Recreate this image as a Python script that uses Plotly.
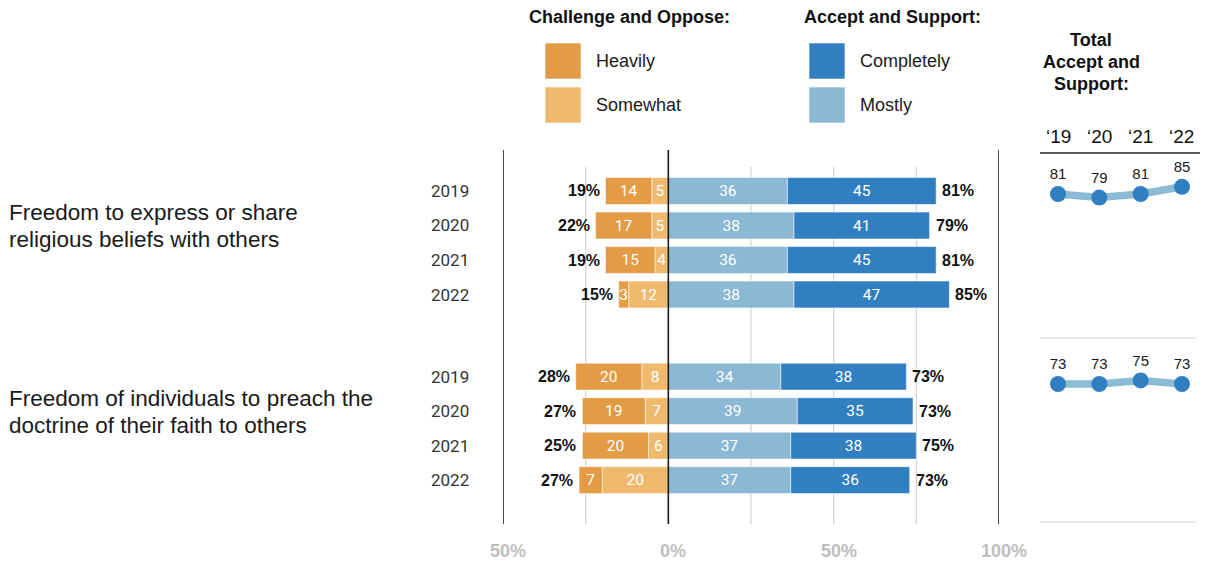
import plotly.graph_objects as go

W, H = 1208, 561

# ---- data -------------------------------------------------------------
years = ["2019", "2020", "2021", "2022"]
spark_ticks = ["\u201819", "\u201820", "\u201821", "\u201822"]
statements = [
    ["Freedom to express or share", "religious beliefs with others"],
    ["Freedom of individuals to preach the", "doctrine of their faith to others"],
]
x_tick_values = [-50, 0, 50, 100]
x_tick_labels = ["50%", "0%", "50%", "100%"]

# Challenge and Oppose (%)
heavily_1 = [14, 17, 15, 3]
somewhat_1 = [5, 5, 4, 12]
heavily_2 = [20, 19, 20, 7]
somewhat_2 = [8, 7, 6, 20]

# Accept and Support (%)
mostly_1 = [36, 38, 36, 38]
completely_1 = [45, 41, 45, 47]
mostly_2 = [34, 39, 37, 37]
completely_2 = [38, 35, 38, 36]

# Published net totals (%)
oppose_total_1 = [19, 22, 19, 15]
oppose_total_2 = [28, 27, 25, 27]
support_total_1 = [81, 79, 81, 85]
support_total_2 = [73, 73, 75, 73]

# ---- styling ----------------------------------------------------------
C_HEAVILY = "#e39b45"
C_SOMEWHAT = "#efba6e"
C_MOSTLY = "#8bb8d2"
C_COMPLETELY = "#317fc1"
C_LINE = "#8cbbd6"
FONT = "Liberation Sans"
NUM_FONT = "Roboto"


def px(x):
    return x / W


def py(y):
    return 1 - y / H


# vertical slots for the rows (one unit = one row pitch)
ROW_PITCH = 34.5
group_gap = 5.38
row_y = [0, 1, 2, 3] + [group_gap + i for i in range(4)]
y_top_px, y_bot_px, first_row_px = 150, 524, 191
y_range = [(y_bot_px - first_row_px) / ROW_PITCH, (y_top_px - first_row_px) / ROW_PITCH]

heavily = heavily_1 + heavily_2
somewhat = somewhat_1 + somewhat_2
mostly = mostly_1 + mostly_2
completely = completely_1 + completely_2
oppose_total = oppose_total_1 + oppose_total_2
support_total = support_total_1 + support_total_2
year_labels = years + years

fig = go.Figure()


def seg(vals, color, sign):
    return go.Bar(
        y=row_y,
        x=[sign * v for v in vals],
        orientation="h",
        width=0.78,
        marker=dict(color=color, line=dict(color="rgba(255,255,255,0.55)", width=1)),
        text=[str(v) for v in vals],
        textposition="inside",
        insidetextanchor="middle",
        textangle=0,
        constraintext="none",
        textfont=dict(family=NUM_FONT, size=15.5, color="white"),
        hoverinfo="skip",
        showlegend=False,
    )


# negatives stack outward from zero in trace order
fig.add_trace(seg(somewhat, C_SOMEWHAT, -1))
fig.add_trace(seg(heavily, C_HEAVILY, -1))
fig.add_trace(seg(mostly, C_MOSTLY, 1))
fig.add_trace(seg(completely, C_COMPLETELY, 1))

# sparklines of total Accept and Support
for vals, yax in [(support_total_1, "y3"), (support_total_2, "y4")]:
    fig.add_trace(go.Scatter(
        x=list(range(len(vals))), y=vals, xaxis="x2", yaxis=yax,
        mode="lines+markers+text",
        line=dict(color=C_LINE, width=7.5),
        marker=dict(size=16, color=C_COMPLETELY),
        text=[str(v) for v in vals],
        textposition="top center",
        textfont=dict(family=FONT, size=15, color="#1a1a1a"),
        hoverinfo="skip", showlegend=False, cliponaxis=False,
    ))

shapes = []
annotations = []

# black reference lines and light gridlines
for xv in [-50, 0, 100]:
    shapes.append(dict(type="line", xref="x", yref="paper", x0=xv, x1=xv,
                       y0=py(524), y1=py(150), line=dict(color="#1a1a1a", width=1.6),
                       layer="above"))
for xv in [-25, 25, 50, 75]:
    shapes.append(dict(type="line", xref="x", yref="paper", x0=xv, x1=xv,
                       y0=py(524), y1=py(167), line=dict(color="#d2d2d2", width=1.2),
                       layer="below"))

# x tick labels
for xv, lab in zip(x_tick_values, x_tick_labels):
    annotations.append(dict(x=xv, xref="x", y=py(551), yref="paper", text=lab,
                            showarrow=False, xanchor="center", yanchor="middle", xshift=5,
                            font=dict(family=FONT, size=18, color="#bdbdbd", weight="bold")))

# totals at bar ends and year labels
for i, y in enumerate(row_y):
    left_end = -(heavily[i] + somewhat[i])
    right_end = mostly[i] + completely[i]
    annotations.append(dict(x=left_end, xref="x", y=y, yref="y", text=f"{oppose_total[i]}%",
                            showarrow=False, xanchor="right", yanchor="middle", xshift=-4,
                            font=dict(family=FONT, size=16, color="#111", weight="bold")))
    annotations.append(dict(x=right_end, xref="x", y=y, yref="y", text=f"{support_total[i]}%",
                            showarrow=False, xanchor="left", yanchor="middle", xshift=4,
                            font=dict(family=FONT, size=16, color="#111", weight="bold")))
    annotations.append(dict(x=px(471), xref="paper", y=y, yref="y", text=year_labels[i],
                            showarrow=False, xanchor="right", yanchor="middle",
                            font=dict(family=NUM_FONT, size=17, color="#333")))

# statement labels
for lines, ys in zip(statements, [(213, 240), (398, 425)]):
    for text, yy in zip(lines, ys):
        annotations.append(dict(x=px(7), xref="paper", y=py(yy), yref="paper", text=text,
                                showarrow=False, xanchor="left", yanchor="middle",
                                font=dict(family=FONT, size=22.5, color="#1a1a1a")))

# legend
annotations.append(dict(x=px(527), xref="paper", y=py(17), yref="paper",
                        text="Challenge and Oppose:", showarrow=False, xanchor="left",
                        yanchor="middle", font=dict(family=FONT, size=18, color="#111", weight="bold")))
annotations.append(dict(x=px(802), xref="paper", y=py(17), yref="paper",
                        text="Accept and Support:", showarrow=False, xanchor="left",
                        yanchor="middle", font=dict(family=FONT, size=18, color="#111", weight="bold")))
legend_items = [
    ("Heavily", C_HEAVILY, 545, 61),
    ("Somewhat", C_SOMEWHAT, 545, 105),
    ("Completely", C_COMPLETELY, 809, 61),
    ("Mostly", C_MOSTLY, 809, 105),
]
for label, color, x0, yc in legend_items:
    shapes.append(dict(type="rect", xref="paper", yref="paper",
                       x0=px(x0), x1=px(x0 + 36), y0=py(yc + 18), y1=py(yc - 18),
                       fillcolor=color, line=dict(color="rgba(255,255,255,0.6)", width=1)))
    annotations.append(dict(x=px(x0 + 49), xref="paper", y=py(yc), yref="paper", text=label,
                            showarrow=False, xanchor="left", yanchor="middle",
                            font=dict(family=FONT, size=18, color="#1a1a1a")))

# right panel header
for text, yy in [("Total", 40), ("Accept and", 62), ("Support:", 84)]:
    annotations.append(dict(x=px(1091), xref="paper", y=py(yy), yref="paper", text=text,
                            showarrow=False, xanchor="center", yanchor="middle",
                            font=dict(family=FONT, size=18, color="#111", weight="bold")))
for i, lab in enumerate(spark_ticks):
    annotations.append(dict(x=i, xref="x2", y=py(137), yref="paper", text=lab,
                            showarrow=False, xanchor="center", yanchor="middle",
                            font=dict(family=FONT, size=19, color="#111")))
shapes.append(dict(type="line", xref="paper", yref="paper", x0=px(1040), x1=px(1200),
                   y0=py(153), y1=py(153), line=dict(color="#222", width=1.5)))
for yy in [338, 522]:
    shapes.append(dict(type="line", xref="paper", yref="paper", x0=px(1040), x1=px(1196),
                       y0=py(yy), y1=py(yy), line=dict(color="#e2e2e2", width=1.5)))

# sparkline axis geometry
spark_px0, spark_dx = 1058, 41.33
x2_range = [(1040 - spark_px0) / spark_dx, (1200 - spark_px0) / spark_dx]
unit = 1.8  # pixels per percentage point


def spark_axis(top_px, bot_px, ref_val, ref_px):
    return dict(domain=[py(bot_px), py(top_px)],
                range=[ref_val - (bot_px - ref_px) / unit, ref_val + (ref_px - top_px) / unit],
                visible=False, anchor="x2", fixedrange=True)


fig.update_layout(
    width=W, height=H,
    margin=dict(l=0, r=0, t=0, b=0),
    paper_bgcolor="white", plot_bgcolor="rgba(0,0,0,0)",
    barmode="relative",
    font=dict(family=FONT),
    xaxis=dict(domain=[px(503), px(999)], range=[-50, 100], visible=False, fixedrange=True),
    yaxis=dict(domain=[py(y_bot_px), py(y_top_px)], range=y_range, visible=False, fixedrange=True),
    xaxis2=dict(domain=[px(1040), px(1200)], range=x2_range, visible=False, anchor="y3",
                fixedrange=True),
    yaxis3=spark_axis(160, 330, 81, 194),
    yaxis4=spark_axis(345, 515, 73, 384),
    shapes=shapes,
    annotations=annotations,
    showlegend=False,
)

fig.write_html("out.html")
